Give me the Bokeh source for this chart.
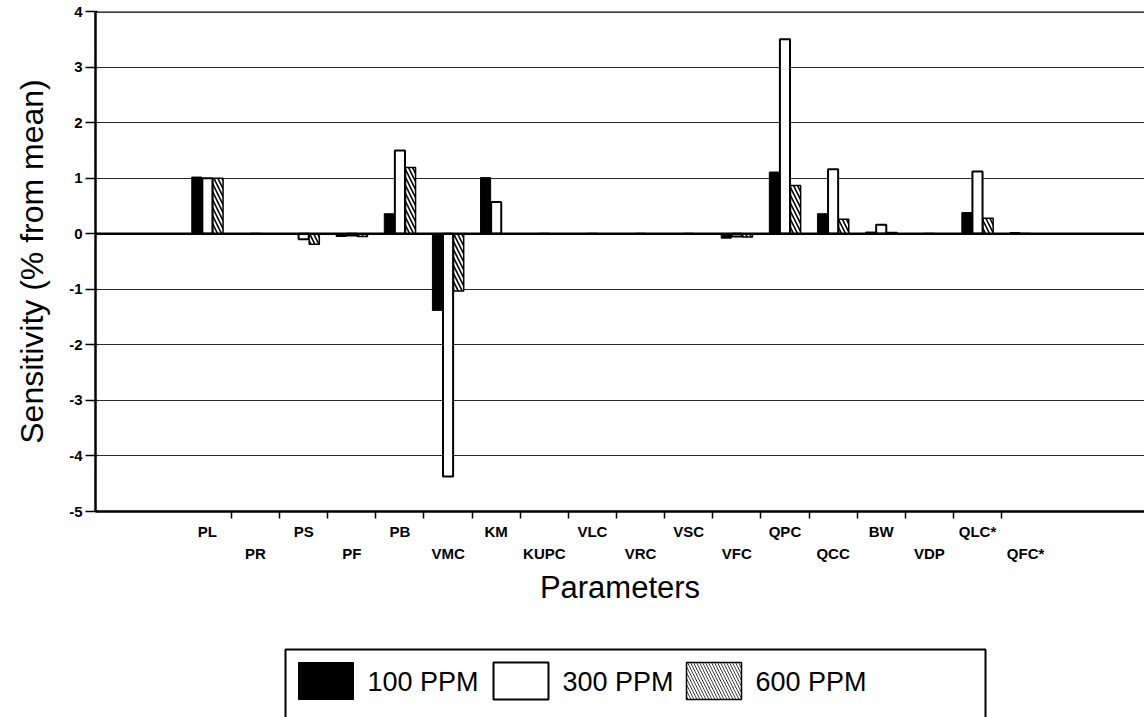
from bokeh.plotting import figure
from bokeh.layouts import column
from bokeh.core.properties import value
from bokeh.models import FixedTicker, LinearAxis, Range1d, Span
from bokeh.embed import file_html
from bokeh.resources import INLINE

# Sensitivity of each model parameter at three exposure concentrations
params = ["PL", "PR", "PS", "PF", "PB", "VMC", "KM", "KUPC", "VLC", "VRC",
          "VSC", "VFC", "QPC", "QCC", "BW", "VDP", "QLC*", "QFC*"]
ppm_100 = [1.02, 0.0, 0.0, -0.05, 0.36, -1.38, 1.01, 0.0, 0.0, 0.0,
           0.0, -0.08, 1.11, 0.36, 0.03, 0.0, 0.38, 0.02]
ppm_300 = [1.00, 0.0, -0.10, -0.03, 1.50, -4.37, 0.57, 0.0, 0.0, 0.0,
           0.0, -0.05, 3.50, 1.16, 0.16, 0.0, 1.12, 0.0]
ppm_600 = [1.00, 0.0, -0.19, -0.05, 1.19, -1.03, 0.0, 0.0, 0.0, 0.0,
           0.0, -0.06, 0.87, 0.26, 0.02, 0.0, 0.28, 0.0]
series_names = ["100 PPM", "300 PPM", "600 PPM"]
y_ticks = [-5, -4, -3, -2, -1, 0, 1, 2, 3, 4]

FONT = "Liberation Sans"
W = 1144
LEFT = 95
TOP_H = 621          # chart part; the legend strip fills the rest of the page
PAGE_H = 717
centers = list(range(len(params)))
bar_w = 0.21
offsets = [-0.22, 0.0, 0.22]

style_100 = dict(fill_color="black", line_color="black", line_width=1)
style_300 = dict(fill_color="white", line_color="black", line_width=2)
style_600 = dict(fill_color="black", line_color="black", line_width=1.5,
                 hatch_pattern="\\", hatch_color="white", hatch_weight=2)

p = figure(frame_width=W - LEFT, frame_height=500,
           x_range=Range1d(-2.325, 19.47), y_range=Range1d(-5, 4),
           output_backend="svg", toolbar_location=None,
           min_border_left=LEFT, min_border_right=0, min_border_top=11,
           min_border_bottom=TOP_H - 511)
p.outline_line_color = None
p.background_fill_color = "white"
p.xgrid.visible = False
p.ygrid.ticker = FixedTicker(ticks=[-4, -3, -2, -1, 1, 2, 3])
p.ygrid.grid_line_color = "#2a2a2a"
p.ygrid.grid_line_width = 1

# value axis
ya = p.yaxis[0]
ya.ticker = FixedTicker(ticks=y_ticks)
ya.major_label_overrides = {t: str(t) for t in y_ticks}
ya.axis_line_width = 2.5
ya.axis_line_color = "black"
ya.major_tick_out = 10
ya.major_tick_in = 2
ya.major_tick_line_width = 1.5
ya.minor_tick_line_color = None
ya.major_label_standoff = 3
ya.major_label_text_font = FONT
ya.major_label_text_font_style = "bold"
ya.major_label_text_font_size = "15px"
ya.major_label_text_color = "black"
ya.axis_label = "Sensitivity (% from mean)"
ya.axis_label_text_font = FONT
ya.axis_label_text_font_style = "normal"
ya.axis_label_text_font_size = "32px"
ya.axis_label_text_color = "black"
ya.axis_label_standoff = 16

# category axis: boundary ticks only
xa = p.xaxis[0]
bounds = [c + 0.5 for c in centers[:-1]]
xa.ticker = FixedTicker(ticks=bounds)
xa.major_label_overrides = {b: "" for b in bounds}
xa.major_label_text_font_size = "1px"
xa.major_label_standoff = 0
xa.axis_line_width = 2.5
xa.axis_line_color = "black"
xa.major_tick_out = 7
xa.major_tick_in = 0
xa.major_tick_line_width = 1.5
xa.minor_tick_line_color = None


def label_axis(idx, standoff):
    ticks = [centers[i] for i in idx]
    ax = LinearAxis(ticker=FixedTicker(ticks=ticks),
                    major_label_overrides={centers[i]: params[i] for i in idx})
    ax.axis_line_color = None
    ax.major_tick_line_color = None
    ax.minor_tick_line_color = None
    ax.major_tick_out = 0
    ax.major_tick_in = 0
    ax.major_label_standoff = standoff
    ax.major_label_text_font = FONT
    ax.major_label_text_font_style = "bold"
    ax.major_label_text_font_size = "15px"
    ax.major_label_text_color = "black"
    return ax


# staggered category names on two rows
row_top = label_axis(range(0, len(params), 2), 4)
row_bottom = label_axis(range(1, len(params), 2), 2)
row_bottom.axis_label = "Parameters"
row_bottom.axis_label_text_font = FONT
row_bottom.axis_label_text_font_style = "normal"
row_bottom.axis_label_text_font_size = "31px"
row_bottom.axis_label_text_color = "black"
row_bottom.axis_label_standoff = 5
p.add_layout(row_top, "below")
p.add_layout(row_bottom, "below")

# bars
x100 = [c + offsets[0] for c in centers]
x300 = [c + offsets[1] for c in centers]
x600 = [c + offsets[2] for c in centers]
p.vbar(x=x100, top=ppm_100, bottom=0, width=bar_w, **style_100)
p.vbar(x=x300, top=ppm_300, bottom=0, width=bar_w, **style_300)
p.vbar(x=x600, top=ppm_600, bottom=0, width=bar_w, hatch_scale=8, **style_600)

p.add_layout(Span(location=0, dimension="width", line_color="black", line_width=2.5))
p.add_layout(Span(location=4, dimension="width", line_color="black", line_width=2.5))

# legend strip, laid out in page pixels (y grows downward)
lg = figure(frame_width=W - LEFT, frame_height=PAGE_H - TOP_H,
            x_range=Range1d(LEFT, W), y_range=Range1d(PAGE_H, TOP_H),
            output_backend="svg", toolbar_location=None,
            x_axis_location=None, y_axis_location=None,
            min_border_left=LEFT, min_border_right=0,
            min_border_top=0, min_border_bottom=0)
lg.outline_line_color = None
lg.xgrid.visible = False
lg.ygrid.visible = False
lg.quad(left=[285], right=[985], top=[649], bottom=[740],
        fill_color="white", line_color="black", line_width=2)

key_left = [298, 493, 686]
key_w = 55
key_top, key_bottom = 662, 699
key_styles = [style_100, style_300, dict(style_600, hatch_scale=6)]
for name, kx, st in zip(series_names, key_left, key_styles):
    lg.quad(left=[kx], right=[kx + key_w], top=[key_top], bottom=[key_bottom], **st)
    lg.text(x=[kx + key_w + 14], y=[(key_top + key_bottom) / 2 + 1], text=[name],
            text_font=value(FONT), text_font_size="27px", text_color="black",
            text_baseline="middle", text_align="left")

page = column(p, lg, spacing=0)
open("out.html", "w").write(file_html(page, INLINE))
